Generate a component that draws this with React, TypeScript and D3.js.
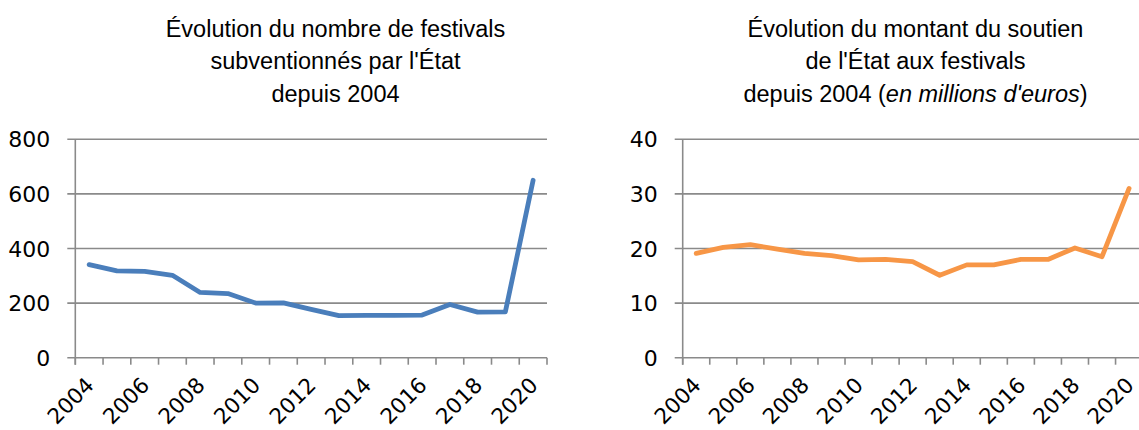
import * as d3 from "d3";

const years = [
  "2004", "2005", "2006", "2007", "2008", "2009", "2010", "2011", "2012",
  "2013", "2014", "2015", "2016", "2017", "2018", "2019", "2020",
];
const festivals = [341, 318, 316, 302, 239, 235, 200, 201, 177, 154, 155, 155, 156, 195, 167, 168, 650];
const soutien = [19.1, 20.2, 20.7, 19.9, 19.1, 18.7, 17.9, 18.0, 17.6, 15.1, 17.0, 17.0, 18.0, 18.0, 20.1, 18.5, 31.0];
const festivalTicks = [0, 200, 400, 600, 800];
const soutienTicks = [0, 10, 20, 30, 40];
const shownYears = ["2004", "2006", "2008", "2010", "2012", "2014", "2016", "2018", "2020"];

const GRID = "#8a8a8a";
const TICK_FONT = "'DejaVu Sans', sans-serif";
const TITLE_FONT = "'Liberation Sans', Arial, sans-serif";

interface ChartProps {
  values: number[];
  ticks: number[];
  left: number;
  right: number;
  color: string;
}

function LineChart({ values, ticks, left, right, color }: ChartProps) {
  const top = 139.3;
  const bottom = 357.7;
  const x = d3.scaleBand<string>().domain(years).range([left, right]);
  const y = d3
    .scaleLinear()
    .domain([0, ticks[ticks.length - 1]])
    .range([bottom, top]);

  const line = d3
    .line<number>()
    .x((_, i) => x(years[i])! + x.bandwidth() / 2)
    .y((d) => y(d));

  // tick marks sit on band edges
  const boundaries = years.map((yr) => x(yr)!).concat([right]);

  return (
    <g>
      {ticks.map((t) => (
        <g key={t}>
          <line x1={left - 8} x2={right} y1={y(t)} y2={y(t)} stroke={GRID} strokeWidth={1.6} />
          <text
            x={left - 25}
            y={y(t) + 8}
            textAnchor="end"
            fontFamily={TICK_FONT}
            fontSize={22}
            fill="#000"
          >
            {t}
          </text>
        </g>
      ))}
      <line x1={left} x2={left} y1={top} y2={bottom + 7} stroke={GRID} strokeWidth={1.6} />
      {boundaries.map((bx, i) => (
        <line key={i} x1={bx} x2={bx} y1={bottom} y2={bottom + 7} stroke={GRID} strokeWidth={1.6} />
      ))}
      {shownYears.map((yr) => {
        const cx = x(yr)! + x.bandwidth() / 2 + 6;
        const cy = bottom + 29;
        return (
          <text
            key={yr}
            transform={`translate(${cx},${cy}) rotate(-45)`}
            textAnchor="end"
            fontFamily={TICK_FONT}
            fontSize={21.5}
            fill="#000"
          >
            {yr}
          </text>
        );
      })}
      <path
        d={line(values) ?? ""}
        fill="none"
        stroke={color}
        strokeWidth={4.8}
        strokeLinejoin="round"
        strokeLinecap="round"
      />
    </g>
  );
}

export default function App() {
  return (
    <svg
      width={1139}
      height={430}
      style={{ position: "absolute", left: 0, top: 0, background: "#fff" }}
    >
      <g fontFamily={TITLE_FONT} fontSize={23.5} fill="#000" textAnchor="middle">
        <text x={335.5} y={36.5}>Évolution du nombre de festivals</text>
        <text x={335.5} y={69}>subventionnés par l'État</text>
        <text x={335.5} y={101.5}>depuis 2004</text>
        <text x={915.5} y={36.5}>Évolution du montant du soutien</text>
        <text x={915.5} y={69}>de l'État aux festivals</text>
        <text x={915.5} y={101.5}>
          depuis 2004 (<tspan fontStyle="italic">en millions d'euros</tspan>)
        </text>
      </g>
      <LineChart values={festivals} ticks={festivalTicks} left={75.3} right={547} color="#4a7ebb" />
      <LineChart values={soutien} ticks={soutienTicks} left={682.7} right={1142.6} color="#f79646" />
    </svg>
  );
}
